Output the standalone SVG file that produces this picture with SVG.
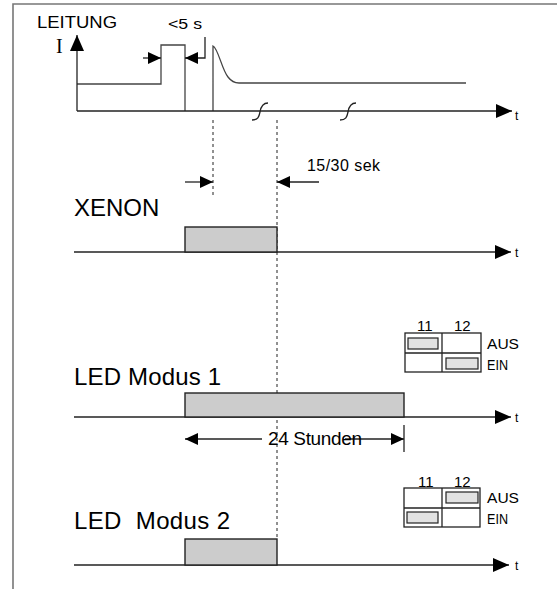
<svg xmlns="http://www.w3.org/2000/svg" width="557" height="589" viewBox="0 0 557 589">
<style>
.ln{stroke:#222;stroke-width:1.3;fill:none}
.sig{stroke:#444;stroke-width:1.3;fill:none}
.frame{stroke:#777;stroke-width:1.6;fill:none}
.dash{stroke:#222;stroke-width:1;stroke-dasharray:3,3;fill:none}
.bar{fill:#cccccc;stroke:#222;stroke-width:1.4}
.sw{fill:#e2e2e2;stroke:#222;stroke-width:1.2}
.box{fill:#fff;stroke:#222;stroke-width:1.3}
.big{font-family:"Liberation Sans",Arial,sans-serif;font-size:24px;fill:#000}
.sm{font-family:"Liberation Sans",Arial,sans-serif;font-size:14px;fill:#000}
.num{font-family:"Liberation Sans",Arial,sans-serif;font-size:15px;fill:#000}
.t{font-family:"Liberation Sans",Arial,sans-serif;font-size:12px;fill:#000}
</style>
<defs>
<marker id="ax" viewBox="0 0 16 14" refX="16" refY="7" markerWidth="16" markerHeight="14" markerUnits="userSpaceOnUse" orient="auto"><path d="M0,0 L16,7 L0,14 z" fill="#000"/></marker>
<marker id="dm" viewBox="0 0 13 12" refX="13" refY="6" markerWidth="13" markerHeight="12" markerUnits="userSpaceOnUse" orient="auto"><path d="M0,0 L13,6 L0,12 z" fill="#000"/></marker>
</defs>
<path class="frame" d="M13,589 L13,4 L557,4"/>
<g id="leitung">
<text class="sm" x="37" y="28" style="font-size:16px" textLength="80" lengthAdjust="spacingAndGlyphs">LEITUNG</text>
<text x="56" y="53" style="font-family:'Liberation Serif','Times New Roman',serif;font-size:20px">I</text>
<text class="sm" x="168" y="29" style="font-size:15px" textLength="34" lengthAdjust="spacingAndGlyphs">&lt;5 s</text>
<path class="sig" d="M77,84 L161,84 L161,45 L185,45 L185,111"/>
<path class="sig" d="M213,111 L213,46 C218,48 222,70 228,77 C231,81 234,83 239,83 L466,83"/>
<path class="ln" d="M252,120 C258,120 259,117 260,112 C261,106 263,103 268,103"/>
<path class="ln" d="M340,120 C346,120 347,117 348,112 C349,106 351,103 356,103"/>
<text class="t" x="515" y="120">t</text>
</g>
<g id="connectors">
<line class="ln" x1="77" y1="111" x2="77" y2="35" marker-end="url(#ax)"/>
<line class="ln" x1="77" y1="111" x2="512" y2="111" marker-end="url(#ax)"/>
<line class="ln" x1="143" y1="58" x2="161" y2="58" marker-end="url(#dm)"/>
<polyline class="ln" points="205,37 205,58 185,58" marker-end="url(#dm)"/>
<line class="dash" x1="213" y1="120" x2="213" y2="196"/>
<line class="dash" x1="277" y1="120" x2="277" y2="539"/>
<line class="ln" x1="185" y1="182" x2="213" y2="182" marker-end="url(#dm)"/>
<line class="ln" x1="319" y1="182" x2="277" y2="182" marker-end="url(#dm)"/>
<line class="ln" x1="74" y1="252" x2="511" y2="252" marker-end="url(#ax)"/>
<line class="ln" x1="74" y1="417" x2="511" y2="417" marker-end="url(#ax)"/>
<line class="ln" x1="74" y1="565" x2="509" y2="565" marker-end="url(#ax)"/>
<line class="ln" x1="262" y1="439" x2="185" y2="439" marker-end="url(#dm)"/>
<line class="ln" x1="345" y1="439" x2="404" y2="439" marker-end="url(#dm)"/>
<line class="ln" x1="404" y1="425" x2="404" y2="452"/>
</g>
<g id="xenon">
<text class="big" x="74" y="216">XENON</text>
<rect class="bar" x="185" y="227" width="92" height="25"/>
<text class="sm" x="307" y="171" style="font-size:16px" textLength="73">15/30 sek</text>
<text class="t" x="515" y="257">t</text>
</g>
<g id="led1">
<text class="big" x="74" y="385" textLength="147">LED Modus 1</text>
<rect class="bar" x="185" y="393" width="219" height="24"/>
<text class="sm" x="268" y="445" style="font-size:19px" textLength="94">24 Stunden</text>
<text class="t" x="515" y="422">t</text>
</g>
<g id="switch1">
<text class="num" x="417" y="331">11</text>
<text class="num" x="454" y="331">12</text>
<rect class="box" x="405" y="333" width="76" height="39"/>
<line class="ln" x1="405" y1="353" x2="481" y2="353"/>
<line class="ln" x1="442" y1="333" x2="442" y2="372"/>
<rect class="sw" x="408" y="338" width="30" height="11"/>
<rect class="sw" x="446" y="358" width="32" height="11"/>
<text class="sm" x="487" y="349" textLength="32" lengthAdjust="spacingAndGlyphs">AUS</text>
<text class="sm" x="487" y="370" textLength="21" lengthAdjust="spacingAndGlyphs">EIN</text>
</g>
<g id="led2">
<text class="big" x="74" y="529" xml:space="preserve" textLength="156">LED  Modus 2</text>
<rect class="bar" x="185" y="539" width="92" height="26"/>
<text class="t" x="515" y="570">t</text>
</g>
<g id="switch2">
<text class="num" x="418" y="487">11</text>
<text class="num" x="454" y="487">12</text>
<rect class="box" x="404" y="488" width="76" height="39"/>
<line class="ln" x1="404" y1="508" x2="480" y2="508"/>
<line class="ln" x1="442" y1="488" x2="442" y2="527"/>
<rect class="sw" x="446" y="492" width="32" height="11"/>
<rect class="sw" x="407" y="512" width="31" height="11"/>
<text class="sm" x="487" y="503" textLength="32" lengthAdjust="spacingAndGlyphs">AUS</text>
<text class="sm" x="487" y="524" textLength="21" lengthAdjust="spacingAndGlyphs">EIN</text>
</g>
</svg>
